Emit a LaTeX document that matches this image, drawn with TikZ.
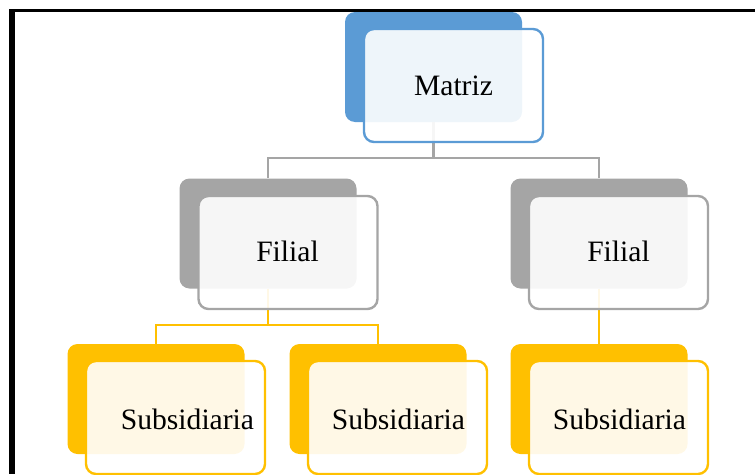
\documentclass[tikz,border=0pt]{standalone}
\usepackage{fontspec}
\setmainfont{Liberation Serif}
\definecolor{cblue}{HTML}{5B9BD5}
\definecolor{cgray}{HTML}{A5A5A5}
\definecolor{cgold}{HTML}{FFC000}
\begin{document}
\begin{tikzpicture}[x=1pt,y=-1pt,
  backbox/.style={rectangle,rounded corners=10pt,inner sep=0pt,minimum width=177pt,minimum height=110pt,fill=#1},
  frontbox/.style={rectangle,rounded corners=10pt,inner sep=0pt,minimum width=179pt,minimum height=113pt,draw=#1,line width=2.4pt,fill=white,fill opacity=0.9},
  lbl/.style={anchor=base,inner sep=0pt,font=\fontsize{29.6}{34}\selectfont},
  conn/.style={draw=#1,line width=2.2pt}]
\useasboundingbox (0,0) rectangle (755,474);
% back boxes
\node[backbox=cblue] (mb) at (433.5,67) {};
\node[backbox=cgray] (flb) at (268,233.5) {};
\node[backbox=cgray] (frb) at (599,233.5) {};
\node[backbox=cgold] (s1b) at (156,399) {};
\node[backbox=cgold] (s2b) at (378,399) {};
\node[backbox=cgold] (s3b) at (599,399) {};
% connectors
\coordinate (j1) at (433.5,158);
\coordinate (j2) at (268,325);
\draw[conn=cgray] (mb.south) -- (j1);
\draw[conn=cgray] (j1) -| (flb.north);
\draw[conn=cgray] (j1) -| (frb.north);
\draw[conn=cgold] (flb.south) -- (j2);
\draw[conn=cgold] (j2) -| (s1b.north);
\draw[conn=cgold] (j2) -| (s2b.north);
\draw[conn=cgold] (frb.south) -- (s3b.north);
% front boxes
\node[frontbox=cblue] (mf) at (453.5,85.5) {};
\node[frontbox=cgray] (flf) at (288,252.5) {};
\node[frontbox=cgray] (frf) at (618.5,252.5) {};
\node[frontbox=cgold] (s1f) at (175.5,417.5) {};
\node[frontbox=cgold] (s2f) at (397.5,417.5) {};
\node[frontbox=cgold] (s3f) at (618.5,417.5) {};
% labels
\node[lbl] (mt) at (453.5,95) {Matriz};
\node[lbl] (flt) at (287.5,261.5) {Filial};
\node[lbl] (frt) at (618.5,261.5) {Filial};
\node[lbl] (s1t) at (187.5,429) {Subsidiaria};
\node[lbl] (s2t) at (398.5,429) {Subsidiaria};
\node[lbl] (s3t) at (619.5,429) {Subsidiaria};
% frame
\draw[line width=3pt] (9,10.5) -- (755,10.5);
\draw[line width=5.5pt] (12,9) -- (12,474);
\end{tikzpicture}
\end{document}
